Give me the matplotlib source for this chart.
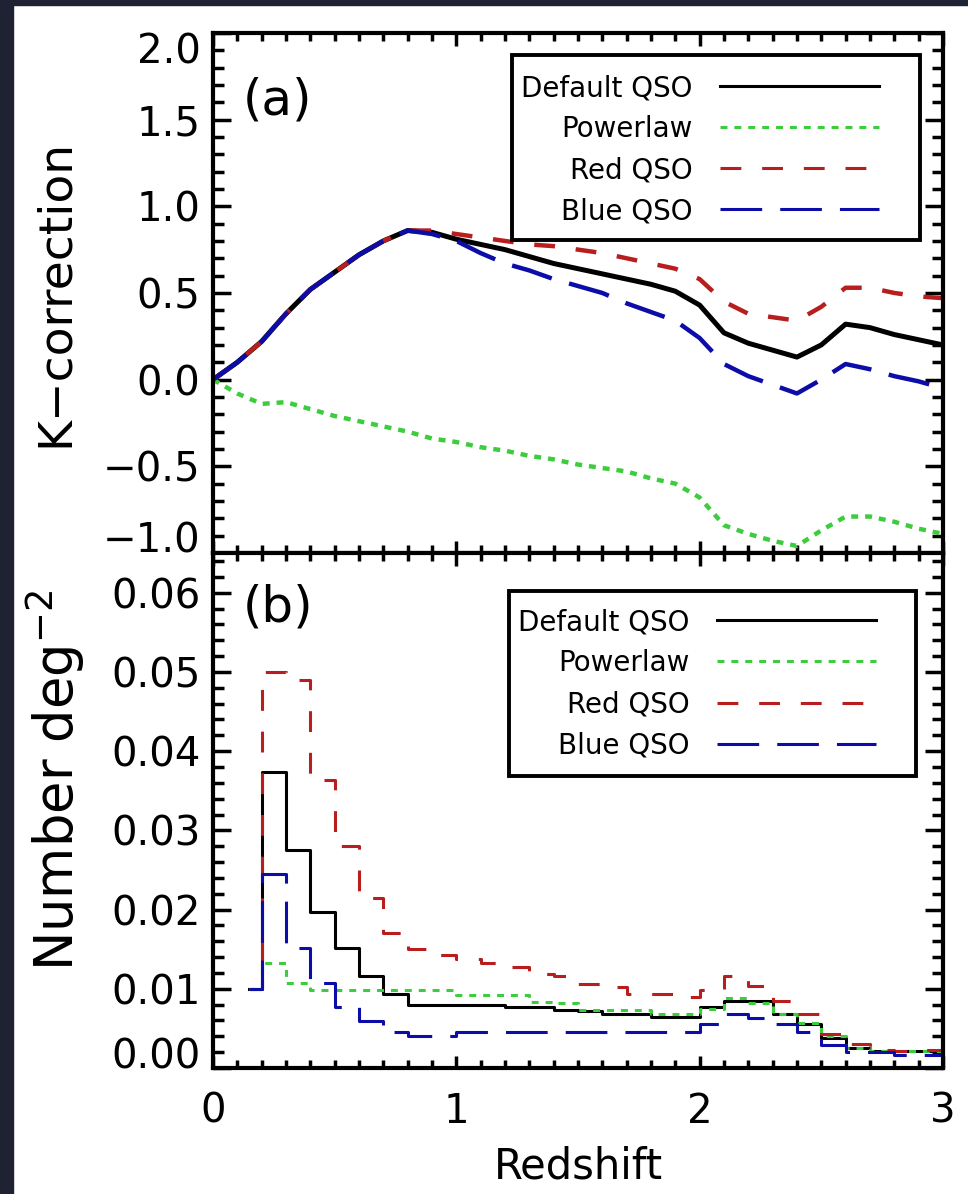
import matplotlib
matplotlib.use("Agg")
import matplotlib.pyplot as plt
from matplotlib.patches import Rectangle
from matplotlib.ticker import MultipleLocator, FuncFormatter


# panel (a): K-correction against redshift
Z_K = [0.0, 0.1, 0.2, 0.3, 0.4, 0.5, 0.6, 0.7, 0.8, 0.9,
       1.0, 1.1, 1.2, 1.3, 1.4, 1.5, 1.6, 1.7, 1.8, 1.9,
       2.0, 2.1, 2.2, 2.3, 2.4, 2.5, 2.6, 2.7, 2.8, 2.9, 3.0]
K_DEFAULT = [0.00, 0.10, 0.22, 0.38, 0.52, 0.62, 0.72, 0.80, 0.86, 0.85,
             0.81, 0.78, 0.75, 0.71, 0.67, 0.64, 0.61, 0.58, 0.55, 0.51,
             0.43, 0.27, 0.21, 0.17, 0.13, 0.20, 0.32, 0.30, 0.26, 0.23, 0.20]
K_POWERLAW = [0.00, -0.08, -0.14, -0.13, -0.17, -0.21, -0.24, -0.27, -0.30, -0.34,
              -0.36, -0.39, -0.41, -0.44, -0.46, -0.49, -0.51, -0.53, -0.57, -0.60,
              -0.68, -0.84, -0.89, -0.93, -0.96, -0.87, -0.79, -0.79, -0.82, -0.86, -0.89]
K_RED = [0.00, 0.10, 0.22, 0.38, 0.52, 0.62, 0.72, 0.80, 0.86, 0.86,
         0.84, 0.82, 0.80, 0.78, 0.77, 0.75, 0.73, 0.70, 0.67, 0.64,
         0.58, 0.45, 0.38, 0.36, 0.34, 0.42, 0.53, 0.53, 0.50, 0.48, 0.47]
K_BLUE = [0.00, 0.10, 0.22, 0.38, 0.52, 0.62, 0.72, 0.80, 0.86, 0.84,
          0.80, 0.73, 0.67, 0.63, 0.58, 0.54, 0.50, 0.44, 0.39, 0.34,
          0.24, 0.09, 0.02, -0.03, -0.08, 0.00, 0.09, 0.06, 0.02, -0.01, -0.05]

# panel (b): number per square degree, histogram bin centres
Z_N = [0.15, 0.25, 0.35, 0.45, 0.55, 0.65, 0.75, 0.85, 0.95, 1.05,
       1.15, 1.25, 1.35, 1.45, 1.55, 1.65, 1.75, 1.85, 1.95, 2.05,
       2.15, 2.25, 2.35, 2.45, 2.55, 2.65, 2.75, 2.85, 2.95, 3.05]
N_DEFAULT = [0.0100, 0.0374, 0.0275, 0.0197, 0.0151, 0.0116, 0.0094, 0.0080, 0.0080, 0.0080,
             0.0080, 0.0077, 0.0077, 0.0073, 0.0072, 0.0068, 0.0068, 0.0064, 0.0064, 0.0077,
             0.0085, 0.0085, 0.0068, 0.0055, 0.0038, 0.0025, 0.0021, 0.0021, 0.0021, 0.0]
N_POWERLAW = [0.0100, 0.0133, 0.0107, 0.0099, 0.0099, 0.0099, 0.0099, 0.0099, 0.0099, 0.0092,
              0.0092, 0.0092, 0.0083, 0.0082, 0.0073, 0.0073, 0.0073, 0.0068, 0.0068, 0.0074,
              0.0088, 0.0082, 0.0068, 0.0057, 0.0040, 0.0025, 0.0021, 0.0021, 0.0021, 0.0]
N_RED = [0.0100, 0.0500, 0.0490, 0.0364, 0.0280, 0.0214, 0.0170, 0.0150, 0.0143, 0.0137,
         0.0132, 0.0128, 0.0119, 0.0116, 0.0106, 0.0102, 0.0094, 0.0094, 0.0090, 0.0098,
         0.0116, 0.0103, 0.0085, 0.0068, 0.0043, 0.0030, 0.0023, 0.0021, 0.0023, 0.0]
N_BLUE = [0.0100, 0.0245, 0.0151, 0.0107, 0.0077, 0.0059, 0.0046, 0.0041, 0.0041, 0.0046,
          0.0046, 0.0046, 0.0046, 0.0046, 0.0046, 0.0046, 0.0046, 0.0046, 0.0046, 0.0055,
          0.0068, 0.0063, 0.0055, 0.0045, 0.0029, 0.0020, 0.0020, 0.0016, 0.0016, 0.0]

LABELS = ["Default QSO", "Powerlaw", "Red QSO", "Blue QSO"]
COLORS = ["black", "#3dcc3d", "#b81e1e", "#0c0ca8"]
DASHES = [None, (5, 5), (15, 15), (30, 13)]

plt.rcParams["font.family"] = ["DejaVu Sans"]
plt.rcParams["lines.scale_dashes"] = False


def style_axes(ax, ylo, yhi, ymajor, yminor, yfmt, show_x):
    ax.set_xlim(0, 3)
    ax.set_ylim(ylo, yhi)
    ax.xaxis.set_major_locator(MultipleLocator(1))
    ax.xaxis.set_minor_locator(MultipleLocator(0.1))
    ax.yaxis.set_major_locator(MultipleLocator(ymajor))
    ax.yaxis.set_minor_locator(MultipleLocator(yminor))
    ax.yaxis.set_major_formatter(
        FuncFormatter(lambda v, p: yfmt.format(v).replace("-", "\u2212")))
    ax.tick_params(which="both", direction="in", top=True, right=True,
                   width=2.5, labelsize=29, labelbottom=show_x)
    ax.tick_params(axis="y", which="major", length=13, pad=9)
    ax.tick_params(axis="y", which="minor", length=8)
    ax.tick_params(axis="x", which="major", length=9, pad=17)
    ax.tick_params(axis="x", which="minor", length=6)
    for sp in ax.spines.values():
        sp.set_linewidth(3)
    # keep the end labels inside the panel, as in the original
    for tick, loc in zip(ax.yaxis.get_major_ticks(), ax.yaxis.get_majorticklocs()):
        if abs(loc - yhi) < 1e-9:
            tick.label1.set_va("top")
        elif abs(loc - ylo) < 1e-9:
            tick.label1.set_va("baseline")


def add_legend(ax, lines, anchor, frame):
    leg = ax.legend(lines, LABELS, loc="upper right", bbox_to_anchor=anchor,
                    frameon=False, borderpad=0, borderaxespad=0,
                    handlelength=5.7, handletextpad=1.0, labelspacing=0.47,
                    markerfirst=False, fontsize=20)
    for ln in leg.get_lines():
        ln.set_linewidth(2.2)
    ax.add_patch(Rectangle(frame[:2], frame[2], frame[3], transform=ax.transAxes,
                           fill=False, lw=2.8, ec="black", zorder=6))


fig = plt.figure(figsize=(9.68, 11.94), dpi=100)
fig.patch.set_facecolor("white")
# dark strip left and top of the screenshot
fig.add_artist(Rectangle((0, 0), 13 / 968, 1, transform=fig.transFigure,
                         color="#1f2233", zorder=0))
fig.add_artist(Rectangle((0, 1 - 5 / 1194), 1, 5 / 1194, transform=fig.transFigure,
                         color="#1f2233", zorder=0))

ax_a = fig.add_axes([0.2200, 0.5369, 0.7541, 0.4355])
ax_b = fig.add_axes([0.2200, 0.1055, 0.7541, 0.4313])

# (a)
lines_a = []
for k, c, d in zip([K_DEFAULT, K_POWERLAW, K_RED, K_BLUE], COLORS, DASHES):
    (ln,) = ax_a.plot(Z_K, k, color=c, lw=3.6 if d is None else 3.2)
    if d is not None:
        ln.set_dashes(d)
    lines_a.append(ln)
style_axes(ax_a, -1.0, 2.0, 0.5, 0.1, "{:.1f}", False)
ax_a.set_ylabel("K\u2212correction", fontsize=34, va="center")
ax_a.yaxis.set_label_coords(-0.216, 0.5)
ax_a.text(0.041, 0.871, "(a)", transform=ax_a.transAxes, fontsize=36,
          ha="left", va="center")
add_legend(ax_a, lines_a, (0.912, 0.921), (0.410, 0.602, 0.558, 0.356))

# (b)
lines_b = []
for n, c, d in zip([N_DEFAULT, N_POWERLAW, N_RED, N_BLUE], COLORS, DASHES):
    (ln,) = ax_b.step(Z_N, n, where="mid", color=c, lw=2.2)
    if d is not None:
        ln.set_dashes(d)
    lines_b.append(ln)
style_axes(ax_b, 0.0, 0.065, 0.01, 0.002, "{:.2f}", True)
ax_b.set_ylabel("Number deg$^{-2}$", fontsize=38, va="center")
ax_b.yaxis.set_label_coords(-0.216, 0.558)
ax_b.set_xlabel("Redshift", fontsize=30, va="center")
ax_b.xaxis.set_label_coords(0.5, -0.192)
ax_b.text(0.041, 0.895, "(b)", transform=ax_b.transAxes, fontsize=36,
          ha="left", va="center")
add_legend(ax_b, lines_b, (0.908, 0.893), (0.405, 0.567, 0.558, 0.359))

fig.savefig("out.png", dpi=100)
